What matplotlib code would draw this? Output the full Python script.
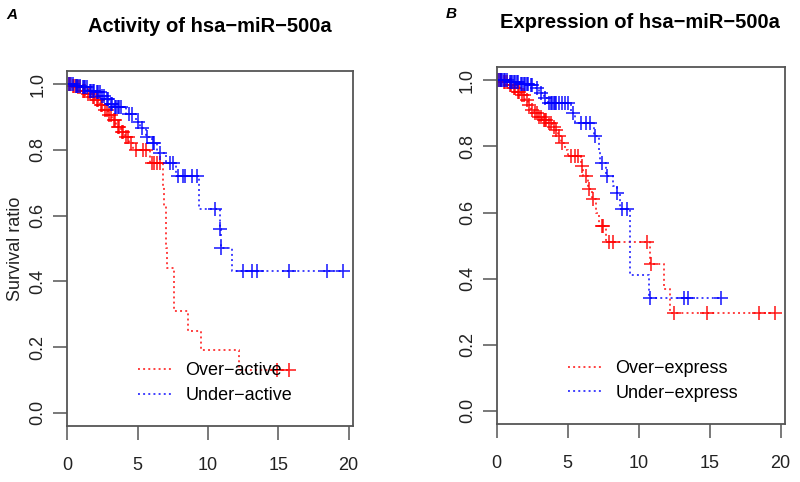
import numpy as np
import matplotlib.pyplot as plt

plt.rcParams['font.family'] = ['Liberation Sans', 'DejaVu Sans']

# panel A - activity
a_over_t = [0.3, 0.7, 1.0, 1.4, 1.7, 2.0, 2.3, 2.6, 2.9, 3.2, 3.5, 3.8, 4.1, 4.4, 4.7, 5.9,
            6.8, 6.9, 7.0, 7.05, 7.1, 7.6, 8.6, 9.5, 12.2]
a_over_s = [1.0, 0.995, 0.99, 0.98, 0.97, 0.96, 0.95, 0.935, 0.92, 0.905, 0.89, 0.87, 0.855,
            0.84, 0.82, 0.80, 0.76, 0.69, 0.63, 0.57, 0.50, 0.44, 0.31, 0.25, 0.19, 0.13]
a_over_cens = [0.1, 0.2, 0.4, 0.5, 0.6, 0.8, 0.9, 1.1, 1.2, 1.3, 1.5, 1.6, 1.8, 1.9, 2.1, 2.2,
               2.4, 2.5, 2.7, 2.8, 3.0, 3.1, 3.3, 3.4, 3.6, 3.7, 3.9, 4.0, 4.2, 4.3, 4.5, 4.9,
               5.4, 5.6, 6.0, 6.2, 6.4, 6.6, 14.9, 15.8]

a_under_t = [0.5, 1.0, 1.5, 2.0, 2.4, 2.7, 3.0, 3.3, 4.2, 4.9, 5.2, 5.6, 6.0, 6.4, 7.0, 7.7,
             9.4, 10.85, 10.9, 11.7]
a_under_s = [1.0, 0.995, 0.99, 0.98, 0.975, 0.965, 0.955, 0.94, 0.93, 0.91, 0.885, 0.865, 0.84,
             0.82, 0.79, 0.76, 0.72, 0.62, 0.56, 0.50, 0.43]
a_under_cens = [0.1, 0.3, 0.4, 0.6, 0.7, 0.8, 0.9, 1.1, 1.2, 1.3, 1.4, 1.6, 1.7, 1.8, 1.9, 2.1,
                2.2, 2.3, 2.5, 2.6, 2.8, 2.9, 3.1, 3.2, 3.4, 3.5, 3.6, 3.7, 3.8, 4.4, 4.6, 5.0,
                5.3, 5.7, 6.1, 6.2, 6.6, 7.3, 7.5, 7.9, 8.2, 8.4, 8.9, 9.2, 10.5, 10.87, 10.95,
                12.5, 13.1, 13.5, 15.8, 18.5, 19.6]

# panel B - expression
b_over_t = [0.4, 0.8, 1.1, 1.4, 1.7, 2.0, 2.2, 2.4, 2.6, 2.9, 3.2, 3.6, 3.9, 4.1, 4.3, 4.5,
            4.8, 5.0, 5.9, 6.1, 6.4, 6.7, 7.0, 7.2, 7.7, 10.8, 11.8, 12.2]
b_over_s = [1.0, 0.995, 0.985, 0.975, 0.965, 0.955, 0.94, 0.925, 0.91, 0.90, 0.89, 0.88, 0.87,
            0.86, 0.85, 0.83, 0.81, 0.79, 0.77, 0.74, 0.71, 0.67, 0.64, 0.60, 0.56, 0.51,
            0.445, 0.37, 0.296]
b_over_cens = [0.1, 0.2, 0.3, 0.5, 0.6, 0.7, 0.9, 1.0, 1.2, 1.3, 1.5, 1.6, 1.8, 1.9, 2.1, 2.3,
               2.5, 2.7, 2.8, 3.0, 3.1, 3.3, 3.4, 3.5, 3.7, 3.8, 4.0, 4.2, 4.4, 4.6, 5.2, 5.5,
               5.7, 6.0, 6.3, 6.5, 6.75, 7.4, 7.5, 7.9, 8.2, 10.6, 10.85, 12.5, 14.8, 18.5, 19.6]

b_under_t = [0.8, 1.6, 2.3, 2.7, 3.0, 3.3, 3.6, 5.25, 5.5, 6.85, 7.2, 7.3, 7.7, 8.2, 8.5, 8.7,
             9.4, 10.7]
b_under_s = [1.0, 0.995, 0.99, 0.985, 0.975, 0.96, 0.945, 0.93, 0.90, 0.87, 0.83, 0.79, 0.75,
             0.71, 0.68, 0.66, 0.61, 0.41, 0.34]
b_under_cens = [0.1, 0.2, 0.3, 0.4, 0.5, 0.6, 0.7, 0.9, 1.0, 1.1, 1.2, 1.3, 1.4, 1.5, 1.7, 1.8,
                1.9, 2.0, 2.1, 2.2, 2.4, 2.5, 2.8, 3.1, 3.4, 3.7, 3.8, 3.9, 4.0, 4.1, 4.2, 4.4,
                4.6, 4.8, 5.0, 5.4, 5.9, 6.3, 6.6, 6.9, 7.4, 7.75, 8.5, 8.8, 9.2, 10.8, 13.2,
                13.5, 15.8]


def km(ax, t, s, cens, color, label):
    t = np.asarray(t)
    s = np.asarray(s)
    tt = np.concatenate([[0], t, [max(max(cens), t[-1])]])
    ss = np.concatenate([s, [s[-1]]])
    ax.step(tt, ss, where='post', color=color, ls=':', lw=1.4, alpha=0.75, label=label)
    c = np.asarray(cens)
    cy = s[np.searchsorted(t, c, side='right')]
    ax.plot(c, cy, ls='none', marker='+', ms=10, mew=1.2, color=color, alpha=0.85)


def style(ax):
    ax.set_xlim(0, 20.3)
    ax.set_ylim(-0.04, 1.04)
    ax.set_xticks([0, 5, 10, 15, 20])
    ax.set_yticks([0, 0.2, 0.4, 0.6, 0.8, 1.0])
    ax.set_yticklabels(['0.0', '0.2', '0.4', '0.6', '0.8', '1.0'], rotation=90, va='center')
    for sp in ax.spines.values():
        sp.set_color('#555555')
        sp.set_linewidth(1.3)
    ax.tick_params(length=10, width=1.1, color='#555555', labelsize=13, labelcolor='#222222',
                   pad=5)
    ax.tick_params(axis='x', pad=12)


def add_legend(ax):
    ax.legend(loc='upper left', bbox_to_anchor=(0.215, 0.205), frameon=False, fontsize=13,
              handlelength=2.0, handletextpad=0.65, labelspacing=0.42, borderpad=0)


fig = plt.figure(figsize=(8, 4.82), dpi=100)

ax1 = fig.add_axes([0.084, 0.116, 0.357, 0.737])
km(ax1, a_over_t, a_over_s, a_over_cens, '#ff0000', 'Over\u2212active')
km(ax1, a_under_t, a_under_s, a_under_cens, '#0000ff', 'Under\u2212active')
style(ax1)
ax1.set_ylabel('Survival ratio', fontsize=13, color='#222222', labelpad=4)
add_legend(ax1)

ax2 = fig.add_axes([0.621, 0.120, 0.36, 0.741])
km(ax2, b_over_t, b_over_s, b_over_cens, '#ff0000', 'Over\u2212express')
km(ax2, b_under_t, b_under_s, b_under_cens, '#0000ff', 'Under\u2212express')
style(ax2)
add_legend(ax2)

fig.text(210 / 800, 1 - 26 / 482, 'Activity of hsa\u2212miR\u2212500a', ha='center', va='center',
         fontsize=14.5, fontweight='bold')
fig.text(640 / 800, 1 - 22 / 482, 'Expression of hsa\u2212miR\u2212500a', ha='center', va='center',
         fontsize=14.5, fontweight='bold')
fig.text(12 / 800, 1 - 15 / 482, 'A', ha='center', va='center', fontsize=11,
         fontweight='bold', fontstyle='italic')
fig.text(451 / 800, 1 - 14 / 482, 'B', ha='center', va='center', fontsize=11,
         fontweight='bold', fontstyle='italic')

fig.savefig('out.png', dpi=100)
